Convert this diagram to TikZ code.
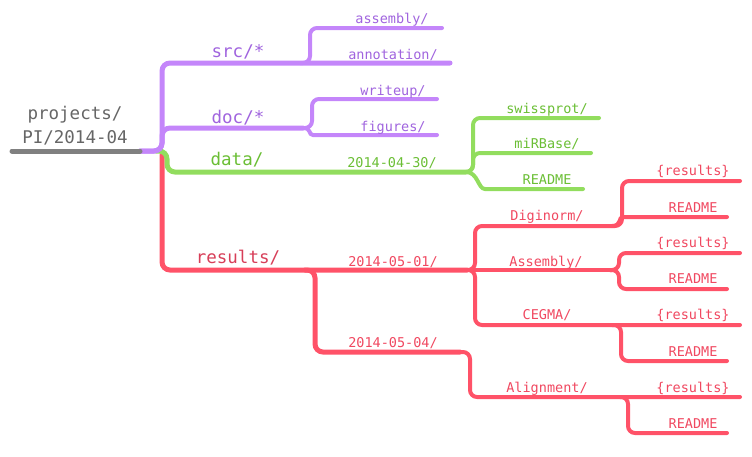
\documentclass[tikz,border=0pt]{standalone}
\usepackage{fontspec}
\newfontfamily\mono{DejaVu Sans Mono}
\definecolor{pline}{RGB}{196,134,250}
\definecolor{ptext}{RGB}{160,100,222}
\definecolor{gline}{RGB}{146,221,94}
\definecolor{gtext}{RGB}{106,190,52}
\definecolor{rline}{RGB}{255,82,104}
\definecolor{rtext}{RGB}{240,72,96}
\definecolor{rtextdark}{RGB}{215,62,88}
\definecolor{grayline}{RGB}{128,128,128}
\definecolor{graytext}{RGB}{102,102,102}
\tikzset{
  x=1pt, y=-1pt,
  branch/.style={line width=5pt, line cap=round, rounded corners=8pt},
  twig/.style={line width=4pt, line cap=round, rounded corners=7pt},
  big/.style={anchor=base, inner sep=0pt, font=\mono\fontsize{17.5}{20}\selectfont},
  small/.style={anchor=base, inner sep=0pt, font=\mono\fontsize{13.5}{16}\selectfont},
}
\begin{document}
\begin{tikzpicture}
\useasboundingbox (0,0) rectangle (752,456);
% ---------- coordinates ----------
\coordinate (r0) at (12,151);
\coordinate (r1) at (140,151);
% purple
\coordinate (srcend) at (450,63);
\coordinate (srcfork) at (300,63);
\coordinate (asmend) at (442,28);
\coordinate (docend) at (303,128);
\coordinate (wrend) at (437,99);
\coordinate (figstart) at (320,135);
\coordinate (figend) at (437,135);
% green
\coordinate (dataend) at (466,172);
\coordinate (rdgstart) at (492,189);
\coordinate (swend) at (599,118);
\coordinate (mirend) at (591,153);
\coordinate (rdgend) at (583,189);
% red
\coordinate (rtop) at (162,155);
\coordinate (resfork) at (305,270);
\coordinate (d1end) at (467,270);
\coordinate (d4end) at (460,352);
\coordinate (digend) at (612,226);
\coordinate (asbend) at (610,270);
\coordinate (cegfork) at (612,325);
\coordinate (alifork) at (620,397);
\coordinate (digres) at (740,181);
\coordinate (digrd) at (727,217);
\coordinate (asbres) at (740,253);
\coordinate (asbrd) at (727,289);
\coordinate (cegres) at (740,325);
\coordinate (cegrd) at (727,361);
\coordinate (alires) at (740,397);
\coordinate (alird) at (727,433);

% ---------- red branch ----------
\draw[branch, rline] (rtop) -- (162,270) -- (resfork) -- (d1end);
\draw[branch, rline] (resfork) -- (315,270) -- (315,352) -- (d4end);
\draw[twig, rline] (d1end) -- (475,270) -- (475,226) -- (digend);
\draw[twig, rline] (d1end) -- (asbend);
\draw[twig, rline] (d1end) -- (475,270) -- (475,325) -- (cegfork) -- (cegres);
\draw[twig, rline] (d4end) -- (470,352) -- (470,397) -- (alifork) -- (alires);
\draw[twig, rline] (digend) -- (622,226) -- (622,181) -- (digres);
\draw[twig, rline] (digend) .. controls (622,226) and (618,217) .. (630,217) -- (digrd);
\draw[twig, rline] (asbend) -- (619,270) -- (619,253) -- (asbres);
\draw[twig, rline] (asbend) -- (619,270) -- (619,289) -- (asbrd);
\draw[twig, rline] (cegfork) -- (621,325) -- (621,361) -- (cegrd);
\draw[twig, rline] (alifork) -- (628,397) -- (628,433) -- (alird);

% ---------- green branch ----------
\draw[branch, gline] (156,151) -- (167,151) -- (167,172) -- (dataend);
\draw[twig, gline] (dataend) -- (473,172) -- (473,118) -- (swend);
\draw[twig, gline] (dataend) -- (473,172) -- (473,153) -- (mirend);
\draw[twig, gline] (dataend) .. controls (478,172) and (478,189) .. (rdgstart) -- (rdgend);

% ---------- purple branch ----------
\draw[branch, pline] (r1) -- (162,151) -- (162,63) -- (srcend);
\draw[branch, pline] (r1) -- (162,151) -- (162,128) -- (docend);
\draw[twig, pline] (srcfork) -- (310,63) -- (310,28) -- (asmend);
\draw[twig, pline] (docend) -- (312,128) -- (312,99) -- (wrend);
\draw[twig, pline] (docend) .. controls (312,128) and (308,135) .. (figstart) -- (figend);

% ---------- root ----------
\draw[line width=5pt, line cap=round, grayline] (r0) -- (r1);

% ---------- labels ----------
\node[big, graytext] (lproj) at (75,119) {projects/};
\node[big, graytext] (lpi) at (75,143) {PI/2014-04};

\node[big, ptext] (lsrc) at (238,57) {src/*};
\node[big, ptext] (ldoc) at (238,123) {doc/*};
\node[small, ptext] (lasm) at (392,23) {assembly/};
\node[small, ptext] (lann) at (393,59) {annotation/};
\node[small, ptext] (lwr) at (393,95) {writeup/};
\node[small, ptext] (lfig) at (393,131) {figures/};

\node[big, gtext] (ldata) at (237,165) {data/};
\node[small, gtext] (l0430) at (392,167) {2014-04-30/};
\node[small, gtext] (lsw) at (547,113) {swissprot/};
\node[small, gtext] (lmir) at (547,148) {miRBase/};
\node[small, gtext] (lrdg) at (547,184) {README};

\node[big, rtextdark] (lres) at (238,263) {results/};
\node[small, rtext] (l0501) at (393,266) {2014-05-01/};
\node[small, rtext] (l0504) at (393,347) {2014-05-04/};
\node[small, rtext] (ldig) at (547,220) {Diginorm/};
\node[small, rtext] (lasb) at (546,266) {Assembly/};
\node[small, rtext] (lceg) at (547,319) {CEGMA/};
\node[small, rtext] (lali) at (547,392) {Alignment/};
\node[small, rtext] (ldr) at (693,175) {\{results\}};
\node[small, rtext] (ldrd) at (693,212) {README};
\node[small, rtext] (lar) at (693,247) {\{results\}};
\node[small, rtext] (lard) at (693,283) {README};
\node[small, rtext] (lcr) at (693,319) {\{results\}};
\node[small, rtext] (lcrd) at (693,356) {README};
\node[small, rtext] (lalr) at (693,392) {\{results\}};
\node[small, rtext] (lalrd) at (693,428) {README};
\end{tikzpicture}
\end{document}
